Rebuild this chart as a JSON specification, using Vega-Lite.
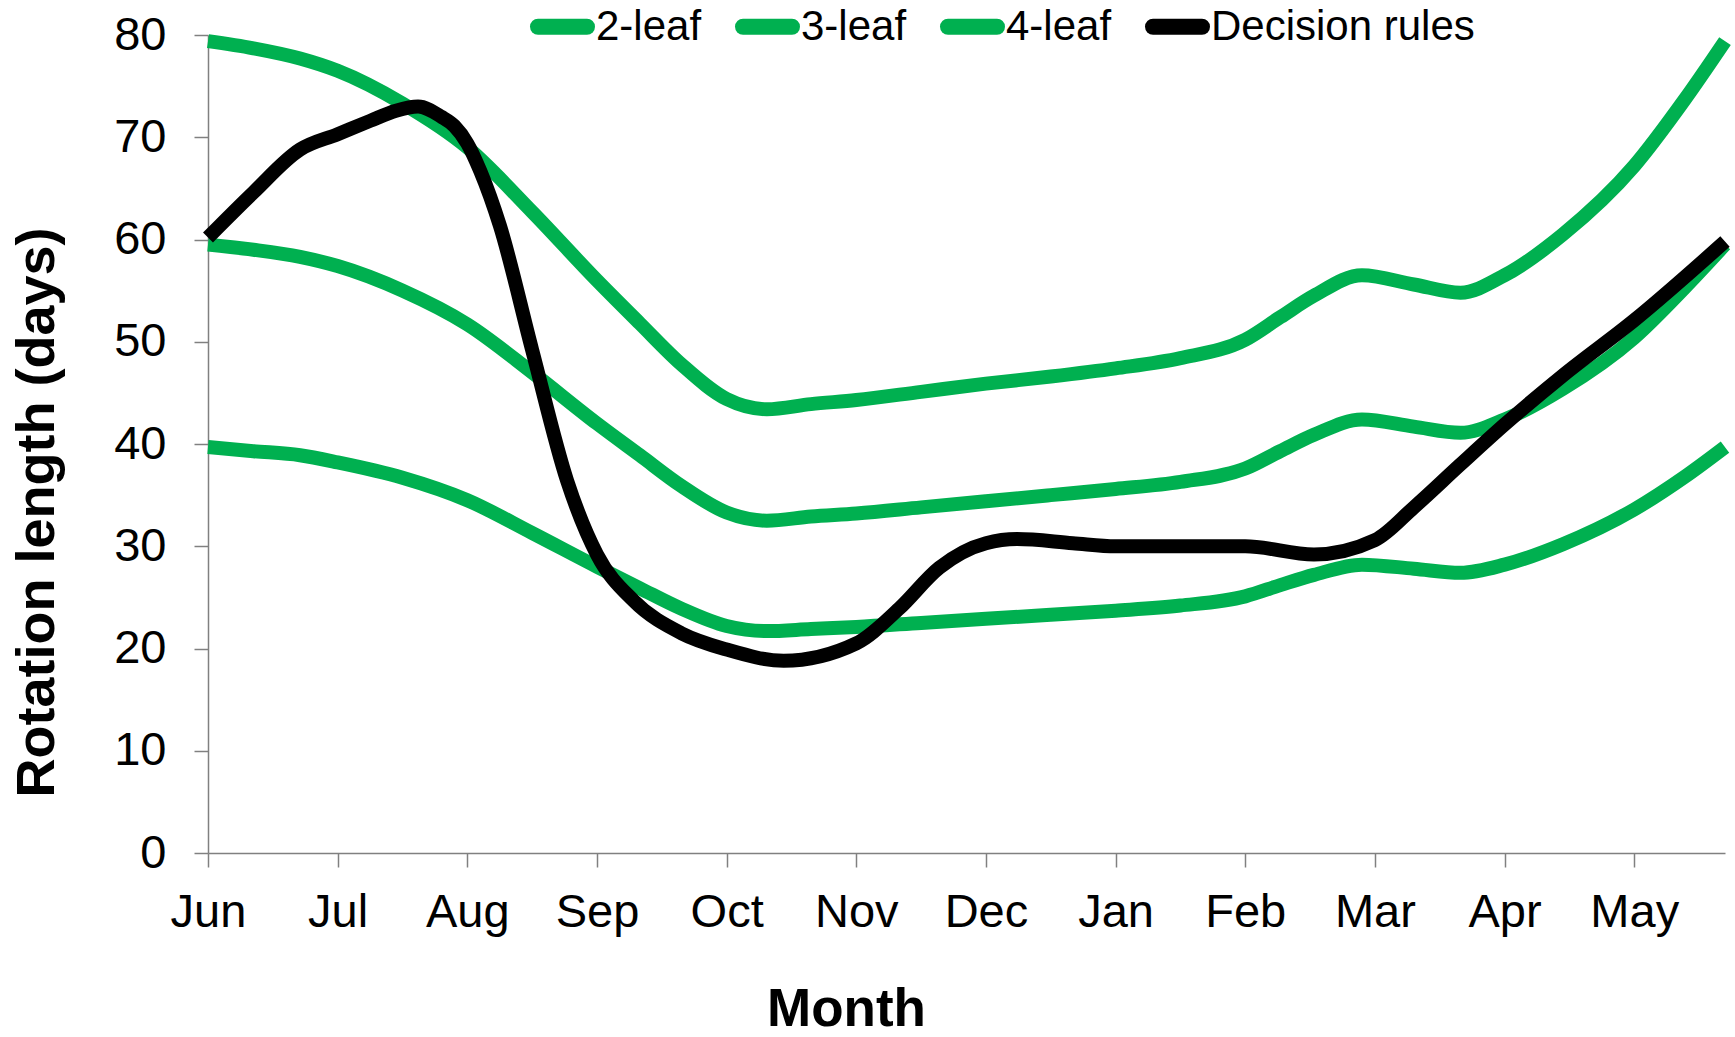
{
  "$schema": "https://vega.github.io/schema/vega-lite/v6.json",
  "width": 1517,
  "height": 818,
  "autosize": {"type": "none"},
  "padding": {"left": 208, "top": 35, "right": 10, "bottom": 184},
  "background": "white",
  "config": {"view": {"stroke": null}, "font": "Liberation Sans", "axis": {"grid": false}},
  "data": {"values": [
    {"s": "2-leaf", "m": 0, "d": 39.7}, {"s": "2-leaf", "m": 0.35, "d": 39.3}, {"s": "2-leaf", "m": 0.71, "d": 38.9}, {"s": "2-leaf", "m": 1, "d": 38.2}, {"s": "2-leaf", "m": 1.5, "d": 36.7}, {"s": "2-leaf", "m": 2, "d": 34.5}, {"s": "2-leaf", "m": 2.5, "d": 31.3}, {"s": "2-leaf", "m": 3, "d": 28.0}, {"s": "2-leaf", "m": 3.33, "d": 25.9}, {"s": "2-leaf", "m": 3.65, "d": 23.9}, {"s": "2-leaf", "m": 4, "d": 22.2}, {"s": "2-leaf", "m": 4.31, "d": 21.7}, {"s": "2-leaf", "m": 4.65, "d": 21.9}, {"s": "2-leaf", "m": 5, "d": 22.1}, {"s": "2-leaf", "m": 5.5, "d": 22.5}, {"s": "2-leaf", "m": 6, "d": 22.9}, {"s": "2-leaf", "m": 6.5, "d": 23.3}, {"s": "2-leaf", "m": 7, "d": 23.7}, {"s": "2-leaf", "m": 7.5, "d": 24.2}, {"s": "2-leaf", "m": 8, "d": 25.1}, {"s": "2-leaf", "m": 8.27, "d": 26.2}, {"s": "2-leaf", "m": 8.53, "d": 27.2}, {"s": "2-leaf", "m": 8.9, "d": 28.2}, {"s": "2-leaf", "m": 9.3, "d": 27.8}, {"s": "2-leaf", "m": 9.66, "d": 27.4}, {"s": "2-leaf", "m": 10, "d": 28.2}, {"s": "2-leaf", "m": 10.45, "d": 30.2}, {"s": "2-leaf", "m": 11, "d": 33.6}, {"s": "2-leaf", "m": 11.39, "d": 36.8}, {"s": "2-leaf", "m": 11.7, "d": 39.7},
    {"s": "3-leaf", "m": 0, "d": 59.5}, {"s": "3-leaf", "m": 0.35, "d": 59.0}, {"s": "3-leaf", "m": 0.71, "d": 58.3}, {"s": "3-leaf", "m": 1, "d": 57.4}, {"s": "3-leaf", "m": 1.5, "d": 55.0}, {"s": "3-leaf", "m": 2, "d": 51.7}, {"s": "3-leaf", "m": 2.5, "d": 47.0}, {"s": "3-leaf", "m": 3, "d": 42.0}, {"s": "3-leaf", "m": 3.33, "d": 38.9}, {"s": "3-leaf", "m": 3.65, "d": 35.9}, {"s": "3-leaf", "m": 4, "d": 33.3}, {"s": "3-leaf", "m": 4.31, "d": 32.5}, {"s": "3-leaf", "m": 4.65, "d": 32.9}, {"s": "3-leaf", "m": 5, "d": 33.2}, {"s": "3-leaf", "m": 5.5, "d": 33.8}, {"s": "3-leaf", "m": 6, "d": 34.4}, {"s": "3-leaf", "m": 6.5, "d": 35.0}, {"s": "3-leaf", "m": 7, "d": 35.6}, {"s": "3-leaf", "m": 7.5, "d": 36.3}, {"s": "3-leaf", "m": 8, "d": 37.6}, {"s": "3-leaf", "m": 8.27, "d": 39.3}, {"s": "3-leaf", "m": 8.53, "d": 40.9}, {"s": "3-leaf", "m": 8.9, "d": 42.4}, {"s": "3-leaf", "m": 9.3, "d": 41.7}, {"s": "3-leaf", "m": 9.66, "d": 41.1}, {"s": "3-leaf", "m": 10, "d": 42.4}, {"s": "3-leaf", "m": 10.45, "d": 45.4}, {"s": "3-leaf", "m": 11, "d": 50.4}, {"s": "3-leaf", "m": 11.39, "d": 55.3}, {"s": "3-leaf", "m": 11.7, "d": 59.5},
    {"s": "4-leaf", "m": 0, "d": 79.4}, {"s": "4-leaf", "m": 0.35, "d": 78.7}, {"s": "4-leaf", "m": 0.71, "d": 77.7}, {"s": "4-leaf", "m": 1, "d": 76.5}, {"s": "4-leaf", "m": 1.5, "d": 73.3}, {"s": "4-leaf", "m": 2, "d": 69.0}, {"s": "4-leaf", "m": 2.5, "d": 62.7}, {"s": "4-leaf", "m": 3, "d": 56.0}, {"s": "4-leaf", "m": 3.33, "d": 51.8}, {"s": "4-leaf", "m": 3.65, "d": 47.8}, {"s": "4-leaf", "m": 4, "d": 44.4}, {"s": "4-leaf", "m": 4.31, "d": 43.4}, {"s": "4-leaf", "m": 4.65, "d": 43.9}, {"s": "4-leaf", "m": 5, "d": 44.3}, {"s": "4-leaf", "m": 5.5, "d": 45.1}, {"s": "4-leaf", "m": 6, "d": 45.9}, {"s": "4-leaf", "m": 6.5, "d": 46.6}, {"s": "4-leaf", "m": 7, "d": 47.4}, {"s": "4-leaf", "m": 7.5, "d": 48.4}, {"s": "4-leaf", "m": 8, "d": 50.2}, {"s": "4-leaf", "m": 8.27, "d": 52.4}, {"s": "4-leaf", "m": 8.53, "d": 54.5}, {"s": "4-leaf", "m": 8.9, "d": 56.5}, {"s": "4-leaf", "m": 9.3, "d": 55.6}, {"s": "4-leaf", "m": 9.66, "d": 54.8}, {"s": "4-leaf", "m": 10, "d": 56.5}, {"s": "4-leaf", "m": 10.45, "d": 60.5}, {"s": "4-leaf", "m": 11, "d": 67.2}, {"s": "4-leaf", "m": 11.39, "d": 73.7}, {"s": "4-leaf", "m": 11.7, "d": 79.4},
    {"s": "Decision rules", "m": 0, "d": 60.2}, {"s": "Decision rules", "m": 0.35, "d": 64.6}, {"s": "Decision rules", "m": 0.71, "d": 68.8}, {"s": "Decision rules", "m": 1, "d": 70.3}, {"s": "Decision rules", "m": 1.25, "d": 71.6}, {"s": "Decision rules", "m": 1.45, "d": 72.6}, {"s": "Decision rules", "m": 1.62, "d": 73.0}, {"s": "Decision rules", "m": 1.8, "d": 72.0}, {"s": "Decision rules", "m": 1.9, "d": 71.1}, {"s": "Decision rules", "m": 2, "d": 69.4}, {"s": "Decision rules", "m": 2.1, "d": 66.7}, {"s": "Decision rules", "m": 2.25, "d": 61.4}, {"s": "Decision rules", "m": 2.5, "d": 49.2}, {"s": "Decision rules", "m": 2.77, "d": 36.4}, {"s": "Decision rules", "m": 3, "d": 29.2}, {"s": "Decision rules", "m": 3.28, "d": 24.7}, {"s": "Decision rules", "m": 3.65, "d": 21.5}, {"s": "Decision rules", "m": 4, "d": 19.9}, {"s": "Decision rules", "m": 4.44, "d": 18.8}, {"s": "Decision rules", "m": 5, "d": 20.5}, {"s": "Decision rules", "m": 5.33, "d": 23.9}, {"s": "Decision rules", "m": 5.64, "d": 27.9}, {"s": "Decision rules", "m": 6, "d": 30.3}, {"s": "Decision rules", "m": 6.24, "d": 30.7}, {"s": "Decision rules", "m": 6.67, "d": 30.3}, {"s": "Decision rules", "m": 7, "d": 30.0}, {"s": "Decision rules", "m": 7.5, "d": 30.0}, {"s": "Decision rules", "m": 8, "d": 30.0}, {"s": "Decision rules", "m": 8.53, "d": 29.2}, {"s": "Decision rules", "m": 9, "d": 30.6}, {"s": "Decision rules", "m": 9.3, "d": 33.8}, {"s": "Decision rules", "m": 9.66, "d": 38.0}, {"s": "Decision rules", "m": 10, "d": 41.9}, {"s": "Decision rules", "m": 10.45, "d": 46.7}, {"s": "Decision rules", "m": 11, "d": 52.1}, {"s": "Decision rules", "m": 11.7, "d": 59.8}
  ]},
  "mark": {"type": "line", "interpolate": "monotone", "strokeWidth": 14},
  "encoding": {
    "x": {
      "field": "m", "type": "quantitative",
      "scale": {"domain": [0, 11.7], "nice": false, "zero": false},
      "axis": {
        "values": [0, 1, 2, 3, 4, 5, 6, 7, 8, 9, 10, 11],
        "labelExpr": "['Jun','Jul','Aug','Sep','Oct','Nov','Dec','Jan','Feb','Mar','Apr','May'][datum.value]",
        "title": "Month", "titleFont": "Liberation Sans", "titleFontSize": 53, "titleFontWeight": "bold", "titleColor": "black",
        "titleX": 638, "titleY": 172, "titleBaseline": "alphabetic", "titleAlign": "center", "titleAnchor": "start",
        "labelFont": "Liberation Sans", "labelFontSize": 47, "labelColor": "black", "labelPadding": 22,
        "tickSize": 14, "tickColor": "#808080", "tickWidth": 1.5, "domainColor": "#808080", "domainWidth": 1.5,
        "labelOverlap": false, "labelFlush": false, "labelBound": false
      }
    },
    "y": {
      "field": "d", "type": "quantitative",
      "scale": {"domain": [0, 80], "nice": false},
      "axis": {
        "values": [0, 10, 20, 30, 40, 50, 60, 70, 80],
        "title": "Rotation length (days)", "titleFont": "Liberation Sans", "titleFontSize": 54, "titleFontWeight": "bold", "titleColor": "black",
        "titleX": -155, "titleY": 477, "titleBaseline": "alphabetic", "titleAlign": "center", "titleAngle": -90, "titleAnchor": "start",
        "labelFont": "Liberation Sans", "labelFontSize": 47, "labelColor": "black", "labelPadding": 28,
        "tickSize": 14, "tickColor": "#808080", "tickWidth": 1.5, "domainColor": "#808080", "domainWidth": 1.5,
        "labelOverlap": false, "labelBound": false
      }
    },
    "color": {
      "field": "s", "type": "nominal",
      "scale": {"domain": ["2-leaf", "3-leaf", "4-leaf", "Decision rules"], "range": ["#00B050", "#00B050", "#00B050", "#000000"]},
      "legend": {
        "orient": "none", "legendX": 322, "legendY": -41, "direction": "horizontal", "title": null, "padding": 0,
        "symbolType": "stroke", "symbolSize": 2400, "symbolStrokeWidth": 16,
        "labelFont": "Liberation Sans", "labelFontSize": 42, "labelColor": "black", "labelOffset": 1, "columnPadding": 9, "labelLimit": 500,
        "encode": {"symbols": {"update": {"strokeCap": {"value": "round"}}}}
      }
    }
  }
}
